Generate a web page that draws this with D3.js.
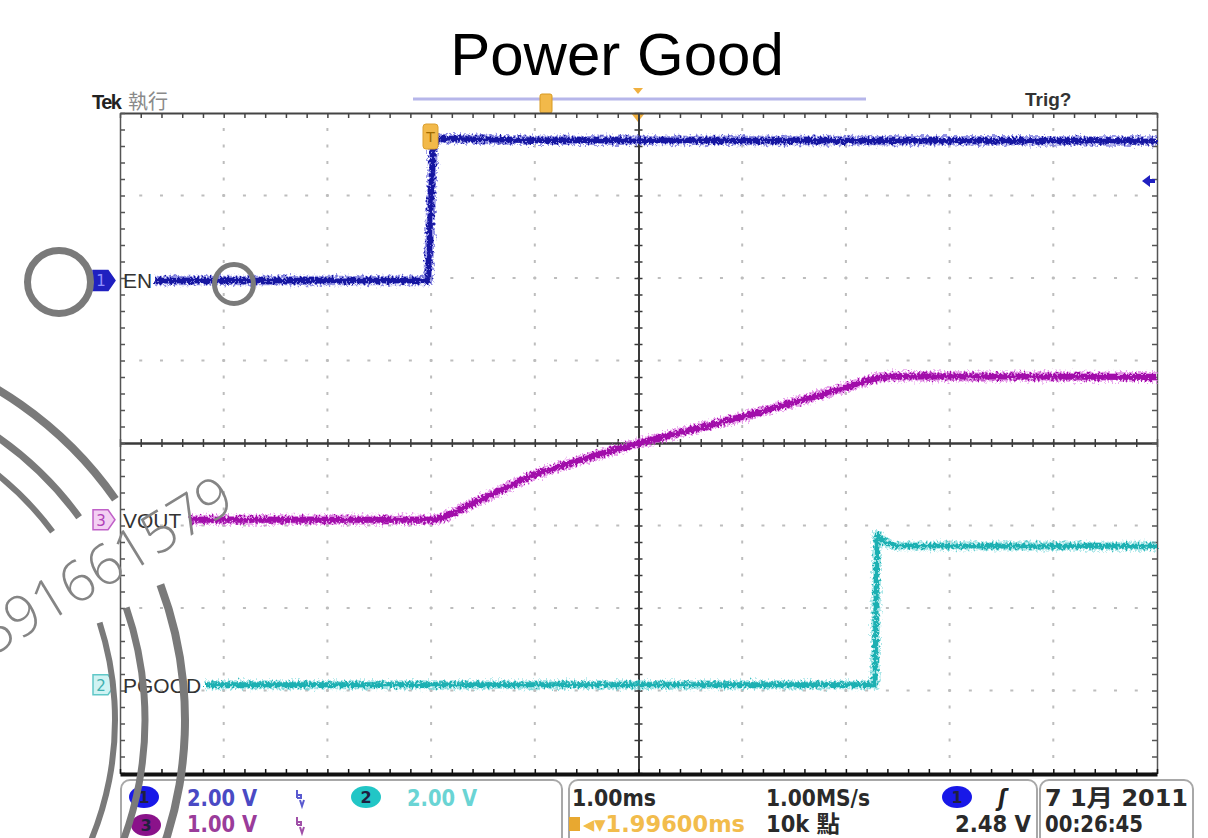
<!DOCTYPE html>
<html><head><meta charset="utf-8">
<script src="https://cdn.jsdelivr.net/npm/d3@7"></script>
<style>body{margin:0;background:#fff}svg{display:block}</style>
</head><body>
<svg id="c" width="1208" height="838"></svg>
<script>
// ---- data (time in ms, volts) ----
const channelNames = ["EN", "VOUT", "PGOOD"];
const channelNumbers = ["1", "3", "2"];
const voltsPerDiv = [2, 1, 2];
const groundDiv = [1.97, -0.93, -2.93];
const enTime = [0.34, 2.97, 3.02, 3.07, 4.0, 10.0];
const enVolts = [0, 0, 3.30, 3.44, 3.40, 3.38];
const voutTime = [0.68, 3.03, 3.12, 3.98, 4.56, 5.01, 6.01, 6.75, 7.30, 7.45, 10.0];
const voutVolts = [0, 0, 0.03, 0.54, 0.77, 0.93, 1.25, 1.51, 1.72, 1.74, 1.73];
const pgoodTime = [0.82, 7.28, 7.30, 7.38, 7.48, 10.0];
const pgoodVolts = [0, 0, 3.63, 3.45, 3.37, 3.36];
const statusRow1 = ["2.00 V", "2.00 V", "1.00ms", "1.00MS/s", "7 1月 2011"];
const statusRow2 = ["1.00 V", "◂▾1.99600ms", "10k 點", "2.48 V", "00:26:45"];
const title = "Power Good";
const watermark = "591661579";

const svg = d3.select("#c");
const x = d3.scaleLinear().domain([0, 10]).range([120, 1157]);
const y = d3.scaleLinear().domain([-4, 4]).range([773, 113]);

const defs = svg.append("defs");
const f = defs.append("filter").attr("id", "noise").attr("filterUnits", "userSpaceOnUse")
  .attr("x", 0).attr("y", 0).attr("width", 1208).attr("height", 838);
f.append("feTurbulence").attr("type", "fractalNoise").attr("baseFrequency", "0.5 0.35")
  .attr("numOctaves", 2).attr("seed", 4).attr("result", "t");
f.append("feDisplacementMap").attr("in", "SourceGraphic").attr("in2", "t")
  .attr("scale", 9).attr("xChannelSelector", "R").attr("yChannelSelector", "G");

// title
svg.append("text").attr("x", 617).attr("y", 75).attr("text-anchor", "middle")
  .attr("font-family", "Liberation Sans, Arial, sans-serif").attr("font-size", 60)
  .attr("fill", "#000").text(title);

// header
svg.append("text").attr("x", 92).attr("y", 109).attr("font-family", "Liberation Sans, Arial")
  .attr("font-weight", "bold").attr("font-size", 20).attr("letter-spacing", -1.5).attr("fill", "#222").text("Tek");
svg.append("text").attr("x", 128).attr("y", 109).attr("font-family", "Noto Sans CJK TC")
  .attr("font-size", 20).attr("fill", "#8a8a8a").text("執行");
svg.append("text").attr("x", 1025).attr("y", 106).attr("font-family", "Liberation Sans, Arial")
  .attr("font-weight", "bold").attr("font-size", 19).attr("fill", "#333").text("Trig?");
svg.append("line").attr("x1", 413).attr("x2", 866).attr("y1", 99).attr("y2", 99)
  .attr("stroke", "#b6b6ea").attr("stroke-width", 3);
svg.append("rect").attr("x", 540).attr("y", 94).attr("width", 12).attr("height", 19).attr("rx", 2)
  .attr("fill", "#f2b94a").attr("stroke", "#d89a20");
svg.append("path").attr("d", "M633,88 L643,88 L638,94 Z").attr("fill", "#f0b040");
svg.append("path").attr("d", "M631,113 L645,113 L638,122 Z").attr("fill", "#f0b040");

// dotted grid
const gridG = svg.append("g").attr("fill", "#bdbdbd");
const fifths = d3.range(1, 40).map(i => -4 + i * 0.2);
const fifthsX = d3.range(1, 50).map(i => i * 0.2);
[1, 2, 3, 4, 6, 7, 8, 9].forEach(gx => {
  gridG.selectAll(null).data(fifths).enter().append("rect")
    .attr("x", x(gx) - 1).attr("y", d => y(d) - 1.5).attr("width", 2).attr("height", 3);
});
[-3, -2, -1, 1, 2, 3].forEach(gy => {
  gridG.selectAll(null).data(fifthsX).enter().append("rect")
    .attr("x", d => x(d) - 1.5).attr("y", y(gy) - 1).attr("width", 3).attr("height", 2);
});

// axes: borders and center cross
const tvx = d3.range(0, 51).map(i => i * 0.2);
const tvy = d3.range(0, 41).map(i => -4 + i * 0.2);
function styl(g, col, w) {
  g.selectAll("path").attr("stroke", col).attr("stroke-width", w);
  g.selectAll("line").attr("stroke", col).attr("stroke-width", 1.5);
  g.selectAll("text").remove();
}
svg.append("g").attr("transform", `translate(0,${y(0)})`)
  .call(d3.axisBottom(x).tickValues(tvx).tickSize(4).tickSizeOuter(0).tickFormat("")).call(styl, "#3a3a3a", 2);
svg.append("g").attr("transform", `translate(0,${y(0)})`)
  .call(d3.axisTop(x).tickValues(tvx).tickSize(4).tickSizeOuter(0).tickFormat("")).call(styl, "#3a3a3a", 2);
svg.append("g").attr("transform", `translate(${x(5)},0)`)
  .call(d3.axisLeft(y).tickValues(tvy).tickSize(4).tickSizeOuter(0).tickFormat("")).call(styl, "#3a3a3a", 2);
svg.append("g").attr("transform", `translate(${x(5)},0)`)
  .call(d3.axisRight(y).tickValues(tvy).tickSize(4).tickSizeOuter(0).tickFormat("")).call(styl, "#3a3a3a", 2);
svg.append("g").attr("transform", `translate(0,${y(4)})`)
  .call(d3.axisBottom(x).tickValues(tvx).tickSize(5).tickSizeOuter(0).tickFormat("")).call(styl, "#444", 2);
svg.append("g").attr("transform", `translate(${x(0)},0)`)
  .call(d3.axisRight(y).tickValues(tvy).tickSize(5).tickSizeOuter(0).tickFormat("")).call(styl, "#555", 1.5);
svg.append("g").attr("transform", `translate(${x(10)},0)`)
  .call(d3.axisLeft(y).tickValues(tvy).tickSize(5).tickSizeOuter(0).tickFormat("")).call(styl, "#555", 1.5);
svg.append("g").attr("transform", `translate(0,${y(-4) + 1})`)
  .call(d3.axisTop(x).tickValues(tvx).tickSize(5).tickSizeOuter(0).tickFormat("")).call(styl, "#111", 4);

// traces
const traces = [
  { t: enTime, v: enVolts, core: "#1414a0", halo: "#4f4fd4", w: 5.5 },
  { t: voutTime, v: voutVolts, core: "#a110aa", halo: "#d866de", w: 6 },
  { t: pgoodTime, v: pgoodVolts, core: "#1cb0b2", halo: "#72d6d8", w: 5 }
];
traces.forEach((tr, i) => {
  const pts = tr.t.map((t, k) => ({ t, v: tr.v[k] }));
  const line = d3.line().x(d => x(d.t)).y(d => y(groundDiv[i] + d.v / voltsPerDiv[i]));
  const g = svg.append("g").attr("filter", "url(#noise)");
  g.append("path").attr("d", line(pts)).attr("fill", "none").attr("stroke", tr.halo)
    .attr("stroke-opacity", 0.6).attr("stroke-width", tr.w + 4).attr("stroke-linejoin", "round");
  g.append("path").attr("d", line(pts)).attr("fill", "none").attr("stroke", tr.core)
    .attr("stroke-width", tr.w).attr("stroke-linejoin", "round");
});

// trigger T marker on EN
svg.append("rect").attr("x", 423).attr("y", 124).attr("width", 15).attr("height", 25).attr("rx", 3)
  .attr("fill", "#f2b94a").attr("stroke", "#dba030");
svg.append("text").attr("x", 430.5).attr("y", 142).attr("text-anchor", "middle").attr("font-size", 14)
  .attr("font-family", "DejaVu Sans").attr("fill", "#a06a00").text("T");
// trigger level arrow on right
svg.append("path").attr("d", "M1142,181 L1150,175 L1150,179 L1155,179 L1155,183 L1150,183 L1150,187 Z").attr("fill", "#2020c0");

// channel markers and labels
const markerCols = [
  { fill: "#2020c0", stroke: "#2020c0", text: "#9090ff" },
  { fill: "#f3d0f3", stroke: "#c060c8", text: "#b040b8" },
  { fill: "#d0f3f3", stroke: "#60c8c8", text: "#40b0b0" }
];
channelNames.forEach((name, i) => {
  const yy = y(groundDiv[i]);
  const c = markerCols[i];
  svg.append("path").attr("d", `M93,${yy - 10} L108,${yy - 10} L115,${yy} L108,${yy + 10} L93,${yy + 10} Z`)
    .attr("fill", c.fill).attr("stroke", c.stroke).attr("stroke-width", 1.5);
  svg.append("text").attr("x", 101).attr("y", yy + 6).attr("text-anchor", "middle")
    .attr("font-family", "DejaVu Sans").attr("font-size", 15).attr("fill", c.text).text(channelNumbers[i]);
  svg.append("text").attr("x", 123).attr("y", yy + 8).attr("font-family", "Liberation Sans, Arial")
    .attr("font-size", 21).attr("fill", "#333").text(name);
});

// status bar boxes
const boxG = svg.append("g").attr("fill", "none").attr("stroke", "#a8a8a8").attr("stroke-width", 2);
[[121, 441], [569, 468], [1040, 153]].forEach(([bx, bw]) => {
  boxG.append("rect").attr("x", bx).attr("y", 780).attr("width", bw).attr("height", 80).attr("rx", 9);
});
function ell(cx, cy, col, label) {
  svg.append("ellipse").attr("cx", cx).attr("cy", cy).attr("rx", 15).attr("ry", 11).attr("fill", col);
  svg.append("text").attr("x", cx).attr("y", cy + 6).attr("text-anchor", "middle")
    .attr("font-family", "DejaVu Sans").attr("font-weight", "bold").attr("font-size", 16).attr("fill", "#202040").text(label);
}
ell(144, 797, "#1818e8", "1");
ell(146, 825, "#8a128a", "3");
ell(366, 797, "#22c6c6", "2");
ell(957, 797, "#1818e8", "1");
function st(xx, yy, txt, col, len, anchor) {
  const t = svg.append("text").attr("x", xx).attr("y", yy).attr("font-family", "DejaVu Sans Condensed, DejaVu Sans, Noto Sans CJK TC")
    .attr("font-weight", "bold").attr("font-size", 23).attr("fill", col).text(txt);
  if (len) t.attr("textLength", len).attr("lengthAdjust", "spacingAndGlyphs");
  if (anchor) t.attr("text-anchor", anchor);
  return t;
}
// bandwidth-limit glyphs (drawn as small paths)
function bw(cx, cy, col) {
  svg.append("path").attr("d", `M${cx - 3},${cy - 9} L${cx - 3},${cy - 1} M${cx - 3},${cy - 4} L${cx + 1},${cy - 4} L${cx + 1},${cy - 1} L${cx - 3},${cy - 1} M${cx},${cy + 1} L${cx + 2},${cy + 7} L${cx + 4},${cy + 1}`)
    .attr("fill", "none").attr("stroke", col).attr("stroke-width", 2);
}
bw(300, 799, "#5a5ad0");
bw(300, 826, "#a050a8");
st(187, 806, statusRow1[0], "#4a4ac4", 70);
st(407, 806, statusRow1[1], "#6ad4d4", 70);
st(187, 832, statusRow2[0], "#9a3c9a", 70);
st(572, 806, statusRow1[2], "#2a2a2a", 84);
svg.append("rect").attr("x", 569).attr("y", 817).attr("width", 11).attr("height", 14).attr("fill", "#e8a830");
st(583, 832, statusRow2[1], "#f2bc4c", 162);
st(766, 806, statusRow1[3], "#2a2a2a", 104);
st(766, 832, statusRow2[2], "#2a2a2a", 74);
st(998, 806, "ʃ", "#222").attr("font-style", "italic");
st(1031, 832, statusRow2[3], "#2a2a2a", 76, "end");
st(1045, 806, statusRow1[4], "#2a2a2a", 143);
st(1045, 832, statusRow2[4], "#2a2a2a", 98);

// watermark stamp
const wm = svg.append("g").attr("fill", "none").attr("stroke", "#7a7a7a");
const arc = d3.arc();
const cxW = -200, cyW = 720;
[[385, 8], [345, 7], [315, 6]].forEach(([r, w], i) => {
  const upperEnd = [-35, -36, -36.7][i], lowerStart = [-20.6, -19, -18][i];
  const conv = a => (a + 90) * Math.PI / 180;
  wm.append("path").attr("transform", `translate(${cxW},${cyW})`)
    .attr("d", arc({ innerRadius: r - w / 2, outerRadius: r + w / 2, startAngle: conv(-75), endAngle: conv(upperEnd) }))
    .attr("fill", "#7a7a7a").attr("stroke", "none");
  wm.append("path").attr("transform", `translate(${cxW},${cyW})`)
    .attr("d", arc({ innerRadius: r - w / 2, outerRadius: r + w / 2, startAngle: conv(lowerStart), endAngle: conv(40) }))
    .attr("fill", "#7a7a7a").attr("stroke", "none");
});
wm.append("circle").attr("cx", 59).attr("cy", 282).attr("r", 31.5).attr("stroke-width", 7);
wm.append("circle").attr("cx", 234).attr("cy", 284).attr("r", 19.5).attr("stroke-width", 5);
svg.append("text").attr("transform", "translate(-8,657) rotate(-31.4)")
  .attr("font-family", "Open Sans, DejaVu Sans").attr("font-weight", 300).attr("font-size", 56)
  .attr("fill", "#858585").text(watermark);
</script>
</body></html>
